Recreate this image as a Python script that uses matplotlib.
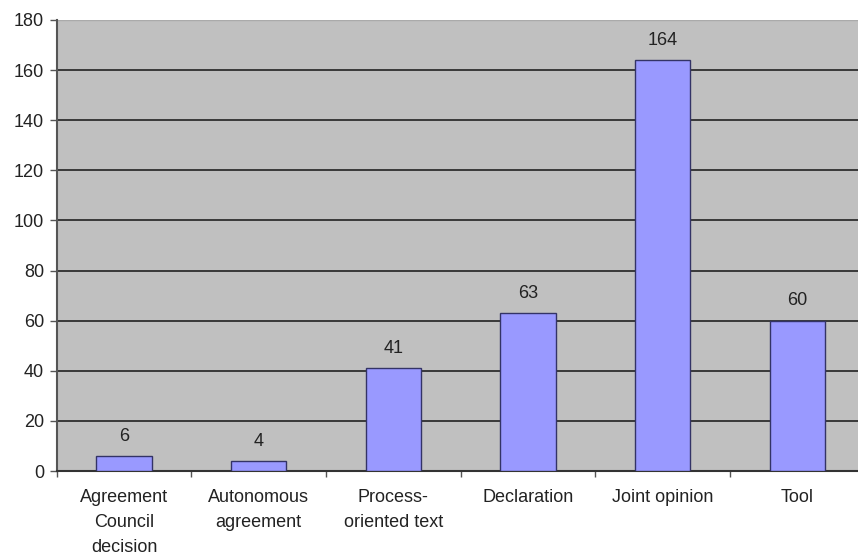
import matplotlib
matplotlib.use("Agg")
import matplotlib.pyplot as plt
import numpy as np

categories = ["Agreement\nCouncil\ndecision", "Autonomous\nagreement", "Process-\noriented text",
              "Declaration", "Joint opinion", "Tool"]
values = [6, 4, 41, 63, 164, 60]
yticks = list(range(0, 181, 20))

plt.rcParams['font.family'] = ['Liberation Sans', 'DejaVu Sans']

W, H = 858, 557
fig = plt.figure(figsize=(W/100, H/100), dpi=100)
left_px, right_px, top_px, bot_px = 56.7, 56.7 + 808, 20, 471
ax = fig.add_axes([left_px/W, (H-bot_px)/H, (right_px-left_px)/W, (bot_px-top_px)/H])
ax.set_facecolor('#C0C0C0')

FS = 13
x = np.arange(len(categories))
ax.bar(x, values, width=0.41, color='#9999FF', edgecolor='#333366', linewidth=1.0, zorder=3)
for xi, v in zip(x, values):
    ax.text(xi, v + 4.5, str(v), ha='center', va='bottom', fontsize=FS, color='#222222', zorder=4)

ax.set_xlim(-0.5, len(categories) - 0.5)
ax.set_ylim(0, 180)
ax.set_yticks(yticks)
ax.yaxis.grid(True, color='#222222', linewidth=1.2, zorder=1)
ax.set_axisbelow(True)

ax.set_xticks(x)
ax.set_xticklabels(categories, fontsize=FS, color='#222222', linespacing=1.62)
ax.tick_params(axis='x', length=0, pad=13)
ax.set_xticks(np.arange(-0.5, len(categories), 1.0), minor=True)
ax.tick_params(axis='x', which='minor', length=4, color='#555555', width=1)
ax.tick_params(axis='y', length=5, color='#555555', width=1, labelsize=FS, labelcolor='#222222', pad=4)

for s in ['top', 'right']:
    ax.spines[s].set_visible(False)
ax.spines['left'].set_color('#555555')
ax.spines['left'].set_linewidth(1.5)
ax.spines['bottom'].set_color('#333333')
ax.spines['bottom'].set_linewidth(1.5)
ax.axhline(180, color='#AAAAAA', linewidth=1, zorder=2)

fig.savefig('out.png', dpi=100)
